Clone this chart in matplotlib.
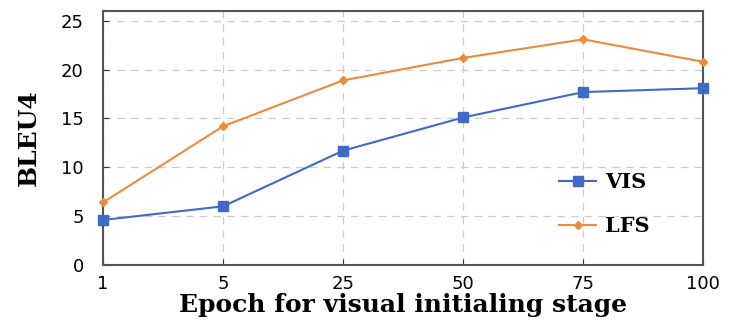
import numpy as np
import matplotlib.pyplot as plt

epochs = ['1', '5', '25', '50', '75', '100']
vis = [4.6, 6.0, 11.7, 15.1, 17.7, 18.1]
lfs = [6.4, 14.2, 18.9, 21.2, 23.1, 20.8]

blue = '#4169c8'
orange = '#ee8a3c'

fig = plt.figure(figsize=(7.31, 3.25), dpi=100)
ax = fig.add_axes([0.141, 0.185, 0.821, 0.781])

x = np.arange(len(epochs))
ax.plot(x, vis, color=blue, lw=1.5, marker='s', ms=7, label='VIS', clip_on=False, zorder=3)
ax.plot(x, lfs, color=orange, lw=1.5, marker='D', ms=4.5, label='LFS', clip_on=False, zorder=3)

ax.set_xlim(0, len(epochs) - 1)
ax.set_ylim(0, 26)
ax.set_xticks(x)
ax.set_xticklabels(epochs)
ax.set_yticks([0, 5, 10, 15, 20, 25])
ax.tick_params(direction='in', labelsize=13, length=4, color='#333333')
ax.tick_params(axis='y', pad=14)
ax.tick_params(axis='x', pad=7)
for lab in ax.get_xticklabels() + ax.get_yticklabels():
    lab.set_family('DejaVu Sans')
ax.grid(True, ls=(0, (6, 5)), color='#cccccc', lw=0.9)
for s in ax.spines.values():
    s.set_color('#555555')
    s.set_linewidth(1.5)

ax.set_xlabel('Epoch for visual initialing stage', family='DejaVu Serif',
              fontweight='bold', fontsize=18, labelpad=0)
ax.set_ylabel('BLEU4', family='DejaVu Serif', fontweight='bold',
              fontsize=18, labelpad=14)

ax.legend(loc='center', bbox_to_anchor=(0.835, 0.24), frameon=False,
          prop={'family': 'DejaVu Serif', 'weight': 'bold', 'size': 15},
          labelspacing=1.15, handlelength=1.8, handletextpad=0.4)

fig.savefig('out.png', dpi=100)
